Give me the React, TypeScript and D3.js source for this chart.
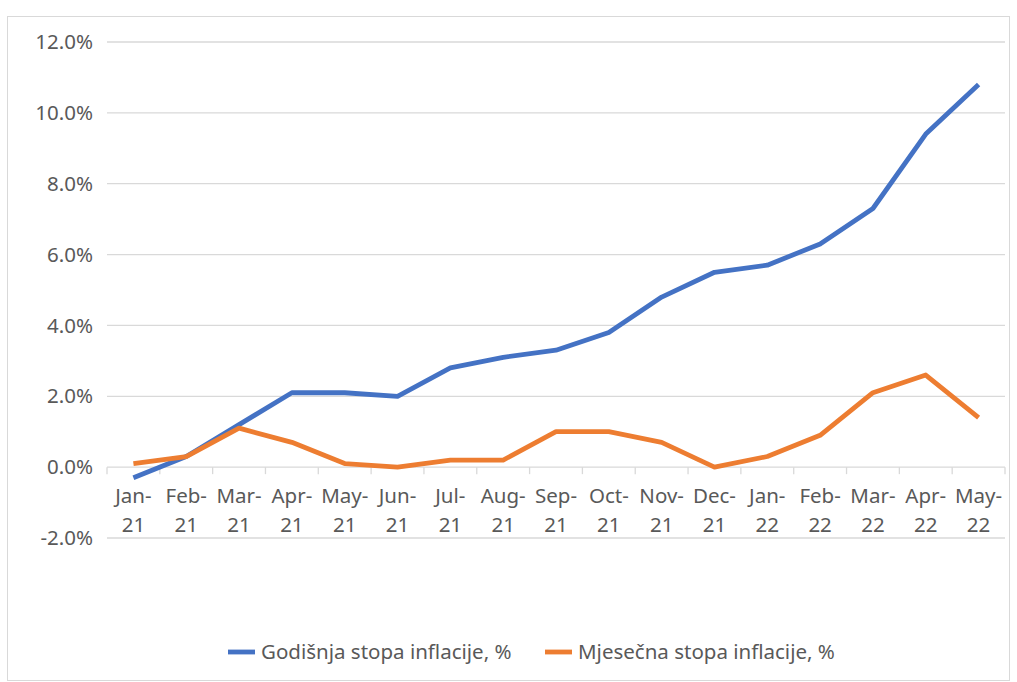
import React from "react";
import * as d3 from "d3";

const months = ["Jan-", "Feb-", "Mar-", "Apr-", "May-", "Jun-", "Jul-", "Aug-", "Sep-", "Oct-", "Nov-", "Dec-", "Jan-", "Feb-", "Mar-", "Apr-", "May-"];
const years = ["21", "21", "21", "21", "21", "21", "21", "21", "21", "21", "21", "21", "22", "22", "22", "22", "22"];
const annual = [-0.3, 0.3, 1.2, 2.1, 2.1, 2.0, 2.8, 3.1, 3.3, 3.8, 4.8, 5.5, 5.7, 6.3, 7.3, 9.4, 10.8];
const monthly = [0.1, 0.3, 1.1, 0.7, 0.1, 0.0, 0.2, 0.2, 1.0, 1.0, 0.7, 0.0, 0.3, 0.9, 2.1, 2.6, 1.4];
const yTicks = [-2, 0, 2, 4, 6, 8, 10, 12];
const seriesNames = ["Godišnja stopa inflacije, %", "Mjesečna stopa inflacije, %"];

const W = 1017, H = 682;
const left = 107, right = 1005, top = 42, bottom = 538;
const font = "'Noto Sans', 'Open Sans', sans-serif";
const textColor = "#595959";
const fs = 20.5;

export default function App() {
  const idx = months.map((_, i) => i);
  const x = d3.scaleBand<number>().domain(idx).range([left, right]);
  const y = d3.scaleLinear().domain([-2, 12]).range([bottom, top]);
  const cx = (i: number) => (x(i) as number) + x.bandwidth() / 2;
  const line = d3.line<number>().x((_, i) => cx(i)).y(d => y(d));
  const colors = ["#4472C4", "#ED7D31"];
  const legendX = [228, 545];
  return (
    <svg width={W} height={H} style={{ position: "absolute", left: 0, top: 0, background: "#fff" }}>
      <rect x={7.5} y={16.5} width={1002} height={664} fill="#fff" stroke="#d9d9d9" />
      {yTicks.map(t => (
        <g key={t}>
          <line x1={left} x2={right} y1={y(t)} y2={y(t)} stroke="#d9d9d9" strokeWidth={1.3} />
          <text x={93} y={y(t)} dy="0.35em" textAnchor="end" fontFamily={font} fontSize={fs} fill={textColor}>
            {t.toFixed(1) + "%"}
          </text>
        </g>
      ))}
      {d3.range(months.length + 1).map(i => {
        const xx = i < months.length ? (x(i) as number) : right;
        return <line key={i} x1={xx} x2={xx} y1={y(0)} y2={y(0) + 7} stroke="#d9d9d9" strokeWidth={1.3} />;
      })}
      {months.map((m, i) => (
        <text key={i} x={cx(i)} textAnchor="middle" fontFamily={font} fontSize={fs} fill={textColor}>
          <tspan x={cx(i)} y={503}>{m}</tspan>
          <tspan x={cx(i)} y={532}>{years[i]}</tspan>
        </text>
      ))}
      <path d={line(annual) || ""} fill="none" stroke={colors[0]} strokeWidth={4.8} strokeLinejoin="round" />
      <path d={line(monthly) || ""} fill="none" stroke={colors[1]} strokeWidth={4.8} strokeLinejoin="round" />
      {seriesNames.map((s, i) => (
        <g key={s}>
          <line x1={legendX[i]} x2={legendX[i] + 27} y1={652} y2={652} stroke={colors[i]} strokeWidth={4.8} />
          <text x={legendX[i] + 33} y={652} dy="0.35em" fontFamily={font} fontSize={fs} fill={textColor}>{s}</text>
        </g>
      ))}
    </svg>
  );
}
